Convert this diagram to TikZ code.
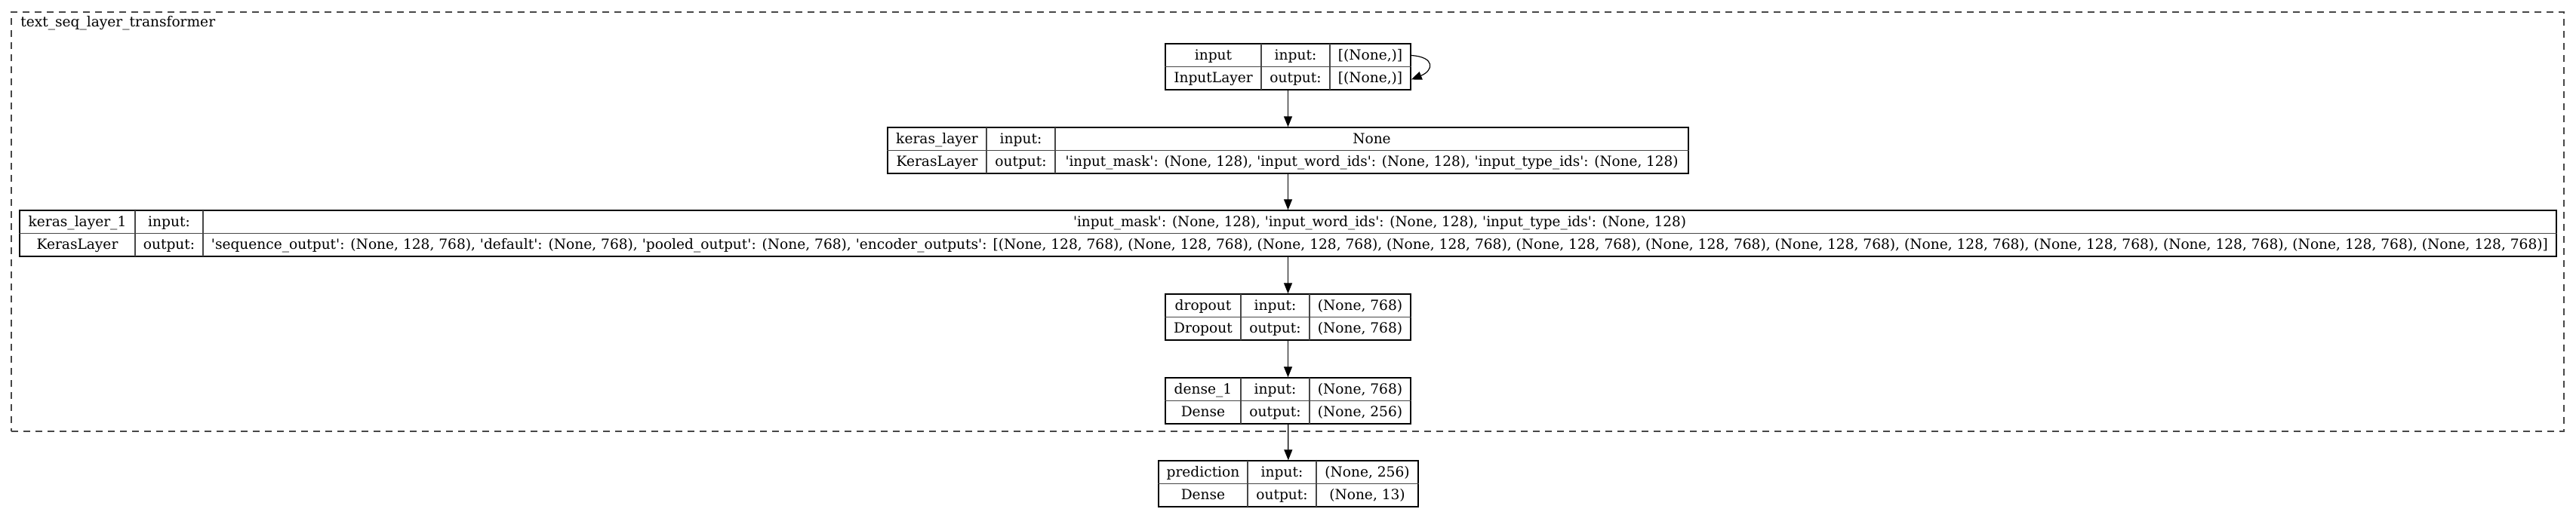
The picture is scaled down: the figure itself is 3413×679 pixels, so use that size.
\documentclass[tikz,border=0pt]{standalone}
\usepackage{graphicx}
\usepackage{fontspec}
\setmainfont{DejaVu Serif}
\usetikzlibrary{arrows.meta}
\usetikzlibrary{fit}
\colorlet{framegray}{black!72}
\newcommand{\qt}{\textquotesingle}
\newcommand{\enc}{(None, 128, 768)}
\newcommand{\feats}{\resizebox{406pt}{\height}{\qt input\_mask\qt: (None, 128), \qt input\_word\_ids\qt: (None, 128), \qt input\_type\_ids\qt: (None, 128)}}
% one keras layer table: id, left, col1, col2, right, top, name, class
\newcommand{\layerbox}[8]{%
  \node[lbox, fit={(#2,#6) (#5,#6+61)}] (#1) {};
  \draw[grid] (#1.west) -- (#1.east)
    (#3,#6) -- (#3,#6+61) (#4,#6) -- (#4,#6+61);
  \node[cell] (#1-name) at ({(#2+#3)/2},#6+15.25) {#7};
  \node[cell] (#1-type) at ({(#2+#3)/2},#6+45.75) {#8};
  \node[cell] (#1-in) at ({(#3+#4)/2},#6+15.25) {input:};
  \node[cell] (#1-out) at ({(#3+#4)/2},#6+45.75) {output:};
  \coordinate (#1-s1) at ({(#4+#5)/2},#6+15.25);
  \coordinate (#1-s2) at ({(#4+#5)/2},#6+45.75);
}

\begin{document}
\begin{tikzpicture}[x=0.5pt, y=-0.5pt, font=\fontsize{9.3}{11}\selectfont,
    lbox/.style={draw, inner sep=0pt, line width=0.7pt},
    grid/.style={framegray, line width=0.6pt},
    cell/.style={inner sep=0pt, text height=8pt, text depth=2pt},
    flow/.style={line width=0.6pt, -{Triangle[length=7pt, width=5.5pt]}},
    group/.style={draw=framegray, line width=0.6pt, dash pattern=on 4.5pt off 3.5pt, inner sep=0pt}]
  \useasboundingbox (0,0) rectangle (3413,679);

  % model group
  \node[group, fit={(15,16) (3397,572)}] (seqgroup) {};
  \node[anchor=base west, inner sep=0pt] (seqlabel) at (27,36) {text\_seq\_layer\_transformer};

  \layerbox{input}{1544}{1671}{1762}{1869}{58}{input}{InputLayer}
  \node[cell] (input-sh1) at (input-s1) {[(None,)]};
  \node[cell] (input-sh2) at (input-s2) {[(None,)]};

  \layerbox{keras}{1176}{1307}{1398}{2237}{169}{keras\_layer}{KerasLayer}
  \node[cell] (keras-sh1) at (keras-s1) {None};
  \node[cell] (keras-sh2) at (keras-s2) {\feats};

  \layerbox{keras1}{26}{179}{269}{3387}{279}{keras\_layer\_1}{KerasLayer}
  \node[cell] (keras1-sh1) at (keras1-s1) {\feats};
  \node[cell] (keras1-sh2) at (keras1-s2) {\resizebox{1548pt}{\height}{\qt sequence\_output\qt: (None, 128, 768), \qt default\qt: (None, 768), \qt pooled\_output\qt: (None, 768), \qt encoder\_outputs\qt: [\enc, \enc, \enc, \enc, \enc, \enc, \enc, \enc, \enc, \enc, \enc, \enc]}};

  \layerbox{dropout}{1544}{1644}{1735}{1869}{390}{dropout}{Dropout}
  \node[cell] (dropout-sh1) at (dropout-s1) {(None, 768)};
  \node[cell] (dropout-sh2) at (dropout-s2) {(None, 768)};

  \layerbox{dense1}{1544}{1644}{1735}{1869}{501}{dense\_1}{Dense}
  \node[cell] (dense1-sh1) at (dense1-s1) {(None, 768)};
  \node[cell] (dense1-sh2) at (dense1-s2) {(None, 256)};

  \layerbox{predict}{1535}{1653}{1744}{1879}{611}{prediction}{Dense}
  \node[cell] (predict-sh1) at (predict-s1) {(None, 256)};
  \node[cell] (predict-sh2) at (predict-s2) {(None, 13)};

  % edges
  \foreach \a/\b in {input/keras, keras/keras1, keras1/dropout, dropout/dense1, dense1/predict}
    \draw[flow] (\a) -- (\b);
  \draw[flow] ([yshift=7.5pt]input.east) .. controls +(16pt,-1pt) and +(15pt,6pt) .. ([yshift=-8.5pt]input.east);
\end{tikzpicture}
\end{document}
